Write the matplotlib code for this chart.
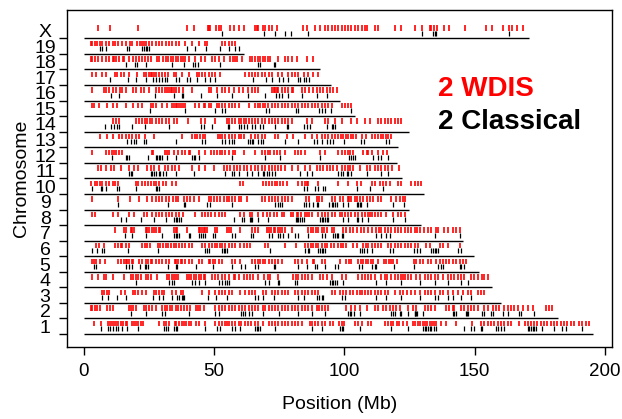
import matplotlib
matplotlib.use("Agg")
import matplotlib.pyplot as plt

plt.rcParams['font.family'] = ['Liberation Sans', 'DejaVu Sans']

# chromosome names and lengths (Mb)
chrom_names = ['1', '2', '3', '4', '5', '6', '7', '8', '9', '10',
               '11', '12', '13', '14', '15', '16', '17', '18', '19', 'X']
chrom_len = [195.5, 182.1, 160.0, 156.5, 151.8, 149.7, 145.4, 129.4, 124.6, 130.7,
             122.1, 120.1, 120.4, 124.9, 104.0, 98.2, 95.0, 90.7, 61.4, 171.0]

# WDIS (red) and Classical (black) positions, Mb
wdis_1 = [3.9, 6.5, 9.4, 9.9, 10.7, 11.6, 12.5, 13.2, 14.1, 15.0, 16.1, 16.7, 18.3, 19.2, 20.1, 20.9,
          21.8, 22.7, 28.8, 30.7, 31.6, 32.7, 34.9, 35.4, 36.4, 37.5, 38.4, 39.3, 40.3, 41.3, 43.1,
          44.1, 46.4, 50.4, 51.7, 53.0, 54.0, 54.9, 55.8, 56.8, 58.1, 59.4, 60.4, 61.7, 62.9, 64.2,
          65.5, 67.0, 68.6, 70.9, 72.1, 73.4, 74.7, 75.9, 77.2, 78.5, 79.8, 81.0, 82.3, 83.6, 86.8,
          87.4, 88.7, 90.0, 91.3, 92.5, 94.4, 95.7, 97.9, 98.9, 99.9, 104.0, 105.3, 106.6, 109.1,
          110.1, 115.7, 116.8, 117.8, 118.7, 120.0, 120.8, 122.5, 124.2, 126.3, 127.2, 128.2, 129.2,
          130.1, 130.8, 131.8, 132.7, 133.6, 134.4, 135.2, 137.1, 139.0, 142.9, 148.9, 152.4, 153.7,
          155.0, 156.2, 157.5, 158.8, 160.1, 161.4, 162.6, 163.9, 167.1, 169.3, 170.3, 171.6, 172.8,
          174.1, 175.4, 176.6, 177.9, 179.2, 180.5, 181.7, 183.0, 184.3, 185.6, 186.8, 188.1, 190.0,
          191.3, 192.6, 193.8]
classical_1 = [6.5, 9.4, 9.9, 11.0, 12.5, 13.2, 14.8, 16.7, 20.9, 30.7, 31.6, 32.4, 34.6, 35.2, 35.8,
               46.6, 51.1, 52.4, 56.8, 58.1, 60.0, 65.7, 66.4, 67.0, 67.7, 73.2, 87.4, 91.3, 98.3,
               98.9, 99.6, 105.9, 118.0, 124.4, 130.1, 130.8, 131.4, 132.0, 132.7, 133.3, 134.4,
               135.2, 146.0, 148.6, 149.9, 152.4, 153.0, 158.1, 158.8, 160.1, 161.4, 170.3, 170.9,
               171.6, 172.2, 172.8, 173.5, 176.0, 180.5, 183.6, 184.9, 191.3]

wdis_2 = [2.7, 3.3, 4.3, 5.2, 6.1, 9.0, 9.9, 11.0, 17.3, 18.0, 18.9, 19.9, 23.1, 23.9, 25.0, 26.0,
          27.5, 30.1, 31.1, 32.0, 32.9, 33.9, 35.2, 36.2, 37.1, 38.4, 39.7, 40.9, 43.1, 43.9, 44.7,
          46.0, 50.4, 51.7, 53.0, 54.3, 55.6, 56.8, 57.9, 59.4, 60.6, 61.9, 63.4, 64.5, 65.7, 66.8,
          68.6, 69.6, 70.9, 72.1, 73.4, 74.7, 75.9, 77.2, 78.5, 79.8, 81.0, 82.3, 83.6, 84.9, 86.2,
          87.4, 89.4, 90.3, 91.3, 92.5, 93.8, 100.8, 102.5, 104.0, 105.9, 108.5, 111.7, 112.9,
          114.9, 116.1, 117.4, 118.7, 119.9, 121.2, 124.4, 126.3, 127.6, 130.8, 132.0, 133.3, 134.6,
          139.0, 140.3, 141.6, 142.2, 144.8, 146.0, 147.3, 148.6, 149.9, 151.2, 153.7, 155.0, 156.9,
          158.2, 159.5, 161.4, 162.6, 163.9, 165.2, 166.5, 168.4, 170.3, 172.2, 177.3, 178.6, 179.8]
classical_2 = [18.0, 23.7, 30.1, 31.1, 40.5, 50.4, 51.7, 60.4, 60.9, 61.9, 63.2, 64.5, 68.9, 74.9,
               82.3, 87.4, 92.5, 101.5, 102.1, 102.7, 103.8, 105.9, 118.0, 118.7, 119.3, 121.2,
               121.9, 124.4, 127.0, 127.2, 127.6, 128.0, 130.1, 141.6, 142.2, 142.9, 146.8, 147.1,
               147.3, 152.9, 153.7, 156.2, 156.9, 160.7, 162.6, 167.1, 167.7, 172.8]

wdis_3 = [7.1, 7.8, 9.0, 9.7, 14.1, 15.8, 18.9, 19.6, 20.9, 22.2, 23.7, 26.9, 27.5, 28.8, 30.1, 30.7,
          33.9, 35.4, 37.1, 38.0, 45.4, 47.9, 50.4, 51.7, 53.0, 54.3, 55.6, 56.8, 60.0, 61.9, 63.2,
          64.5, 65.7, 68.6, 69.8, 72.1, 73.4, 74.7, 75.9, 77.2, 78.5, 81.0, 82.3, 83.6, 84.9, 86.2,
          87.4, 88.7, 90.0, 95.1, 96.4, 98.3, 99.6, 100.8, 102.1, 103.4, 104.7, 105.9, 106.6, 107.8,
          109.1, 110.1, 111.7, 112.7, 114.2, 115.5, 116.8, 119.3, 121.2, 122.5, 124.2, 125.7, 127.0,
          128.9, 130.8, 132.0, 133.3, 134.6, 136.5, 137.8, 139.7, 141.6, 143.5, 145.4, 147.3, 148.6,
          151.2, 152.4, 153.7]
classical_3 = [7.1, 9.4, 12.9, 16.1, 26.5, 28.8, 30.3, 33.9, 35.8, 36.4, 37.5, 38.0, 38.4, 47.7,
               50.7, 54.9, 65.7, 67.0, 68.6, 72.8, 82.3, 84.3, 89.4, 90.3, 91.3, 91.9, 98.9, 100.2,
               112.3, 116.1, 121.9, 128.9, 134.6, 135.9, 139.7, 141.6, 144.8, 148.6]

wdis_4 = [3.3, 5.6, 7.8, 8.4, 11.0, 15.4, 18.0, 18.9, 19.9, 20.9, 21.8, 23.9, 24.7, 25.6, 28.2, 32.0,
          32.7, 33.9, 34.6, 35.2, 36.2, 39.7, 40.3, 41.3, 42.2, 43.1, 44.1, 45.1, 46.0, 46.6, 49.2,
          50.2, 51.4, 53.0, 54.3, 55.6, 57.5, 58.1, 59.4, 61.3, 62.6, 63.8, 65.1, 67.0, 69.3, 70.6,
          71.5, 74.7, 80.4, 81.3, 82.3, 83.6, 84.9, 86.2, 87.4, 90.6, 91.9, 93.2, 95.1, 98.9, 100.8,
          105.3, 106.6, 107.8, 109.1, 110.1, 111.7, 114.2, 115.5, 116.5, 118.0, 119.3, 120.6, 121.9,
          122.5, 123.1, 124.4, 125.7, 127.6, 128.9, 130.8, 132.0, 133.3, 134.6, 135.9, 137.8, 139.7,
          141.0, 142.2, 143.5, 144.8, 146.0, 148.6, 149.9, 151.2, 153.0, 153.7, 155.0]
classical_4 = [20.1, 32.7, 33.7, 34.6, 41.6, 42.8, 44.1, 46.6, 52.0, 53.0, 54.3, 54.9, 55.6, 69.6,
               70.9, 74.7, 74.9, 81.0, 81.7, 94.4, 95.1, 95.7, 96.4, 97.0, 99.6, 112.3, 116.1, 121.9,
               128.9, 134.6, 139.7, 144.8, 147.3]

wdis_5 = [3.3, 3.9, 4.8, 6.1, 8.1, 13.2, 14.1, 15.4, 16.1, 16.7, 17.3, 18.3, 18.9, 21.1, 22.4, 23.9,
          24.7, 25.6, 26.2, 27.5, 28.8, 30.1, 31.4, 32.7, 34.9, 35.4, 36.2, 37.1, 37.7, 39.0, 40.5,
          41.6, 44.1, 45.4, 47.9, 48.5, 49.4, 50.2, 51.7, 53.0, 56.8, 57.9, 60.0, 64.5, 65.7, 66.8,
          67.7, 68.6, 69.6, 70.9, 72.1, 73.4, 74.7, 75.9, 81.0, 82.3, 83.6, 85.5, 88.1, 88.4, 91.5,
          92.5, 98.3, 100.8, 101.7, 102.7, 105.3, 106.3, 107.2, 108.1, 109.1, 110.1, 111.0, 112.7,
          115.2, 116.1, 117.0, 118.0, 118.7, 120.0, 126.7, 127.6, 128.9, 130.1, 132.0, 133.3, 135.2,
          136.5, 137.8, 139.0, 140.3, 141.6, 142.9, 144.2, 145.4, 146.7]
classical_5 = [3.9, 4.8, 16.1, 17.3, 18.3, 21.4, 23.4, 23.9, 24.7, 32.4, 35.2, 35.8, 43.1, 49.4, 56.8,
               60.4, 61.9, 65.7, 67.0, 72.8, 73.4, 82.1, 85.5, 88.7, 89.4, 92.5, 96.4, 97.4, 105.5,
               106.6, 110.4, 111.7, 112.3, 119.0, 126.7, 135.9, 137.1, 137.8, 144.2, 144.8, 146.0]

wdis_6 = [4.8, 5.9, 7.8, 12.0, 13.2, 14.1, 14.8, 16.1, 17.3, 22.4, 23.4, 24.3, 25.2, 28.5, 29.4, 30.3,
          31.4, 32.4, 33.3, 34.6, 35.4, 36.4, 37.5, 38.8, 40.3, 41.6, 45.4, 46.6, 47.9, 49.2, 50.2,
          51.1, 52.4, 53.0, 54.3, 55.6, 56.8, 58.1, 60.0, 61.3, 62.6, 63.8, 69.6, 70.6, 77.2, 81.3,
          84.9, 86.2, 87.2, 88.1, 89.0, 90.0, 91.3, 92.5, 93.5, 94.8, 96.1, 97.6, 98.7, 99.6, 100.5,
          103.4, 104.7, 107.2, 108.1, 109.1, 110.4, 111.7, 112.9, 114.2, 116.8, 118.0, 119.3, 120.6,
          121.9, 123.1, 124.4, 125.7, 127.0, 128.2, 131.4, 132.7, 136.5, 137.8, 139.7, 144.2]
classical_6 = [3.1, 5.2, 6.9, 7.8, 17.1, 28.5, 46.6, 47.3, 47.9, 53.0, 53.6, 54.3, 54.9, 71.5, 84.9,
               85.9, 86.4, 90.0, 90.6, 91.3, 91.9, 92.5, 105.9, 106.6, 107.6, 108.5, 110.4, 117.4,
               118.7, 126.7, 128.0, 128.9, 133.3, 133.9, 134.6, 135.2, 135.9, 143.5, 144.8]

wdis_7 = [12.0, 15.4, 16.1, 18.0, 18.6, 19.2, 23.7, 24.3, 25.0, 26.0, 26.9, 27.8, 28.8, 29.4, 34.6,
          35.2, 35.8, 39.7, 44.1, 44.7, 45.4, 46.0, 46.6, 47.3, 50.4, 51.1, 54.9, 55.6, 56.6, 60.0,
          64.5, 65.7, 66.8, 70.2, 70.9, 71.9, 72.8, 73.4, 74.4, 75.3, 76.2, 77.2, 79.8, 86.2, 87.2,
          88.1, 89.0, 90.0, 91.3, 92.3, 93.2, 95.1, 96.1, 99.6, 100.8, 102.1, 103.4, 104.7, 106.3,
          107.6, 109.1, 110.4, 112.3, 113.2, 114.2, 115.5, 116.8, 118.0, 119.3, 120.6, 121.9, 123.1,
          124.4, 125.7, 127.0, 128.0, 129.2, 130.5, 132.0, 133.3, 135.2, 135.9, 138.2, 139.7, 141.6,
          142.9, 144.2]
classical_7 = [15.8, 18.6, 23.9, 30.1, 34.6, 35.2, 35.8, 36.4, 40.3, 40.9, 44.1, 45.1, 45.6, 46.4,
               49.4, 50.4, 56.8, 58.1, 64.2, 65.1, 70.9, 72.1, 74.7, 75.3, 76.6, 78.5, 81.0, 82.3,
               86.2, 91.3, 92.5, 95.7, 96.4, 97.0, 97.6, 98.9, 99.6, 112.3, 114.2, 116.1, 117.4,
               134.6, 144.5]

wdis_8 = [3.1, 4.3, 11.0, 13.2, 17.3, 19.2, 23.1, 24.3, 26.2, 27.5, 28.8, 30.1, 31.4, 32.7, 33.9,
          35.4, 36.4, 38.0, 42.8, 45.4, 46.6, 47.7, 48.9, 50.4, 51.7, 53.0, 54.3, 60.0, 61.3, 63.8,
          64.7, 67.0, 68.9, 70.2, 71.5, 72.8, 74.0, 75.9, 77.0, 79.5, 80.4, 81.7, 82.3, 83.4, 84.7,
          85.5, 86.4, 87.4, 89.7, 91.3, 92.5, 93.8, 95.1, 96.4, 98.3, 98.9, 100.2, 101.5, 102.7,
          104.0, 105.3, 106.6, 107.8, 108.9, 109.7, 110.4, 111.7, 112.9, 114.2, 116.1, 118.7, 120.6,
          121.9, 123.1]
classical_8 = [14.1, 16.1, 21.8, 26.9, 31.4, 34.6, 35.2, 35.8, 36.4, 37.1, 57.5, 60.6, 61.3, 63.8,
               64.2, 64.7, 67.0, 70.6, 81.3, 81.7, 82.3, 83.0, 83.6, 84.3, 90.6, 91.3, 91.9, 92.5,
               93.2, 93.8, 99.6, 101.5, 105.0, 105.3, 106.6, 109.1, 118.7, 123.4]

wdis_9 = [3.0, 13.2, 17.6, 21.1, 24.3, 26.2, 27.5, 28.8, 30.1, 31.4, 32.7, 34.2, 35.2, 36.2, 38.4,
          39.7, 40.9, 42.2, 44.1, 47.9, 48.9, 49.8, 51.1, 52.4, 53.6, 54.9, 55.8, 56.8, 58.1, 59.4,
          60.4, 62.6, 68.3, 69.6, 70.9, 72.1, 73.4, 74.7, 75.9, 77.2, 78.5, 79.8, 85.2, 86.4, 89.4,
          90.3, 91.3, 95.3, 96.4, 98.3, 99.6, 101.2, 101.7, 102.7, 104.0, 105.0, 105.9, 107.2, 108.5,
          109.7, 111.0, 112.7, 114.0, 118.0, 119.9, 121.2, 122.5, 123.1]
classical_9 = [13.2, 32.4, 38.4, 39.0, 47.3, 48.5, 56.8, 73.4, 74.4, 75.3, 76.2, 84.3, 85.2, 86.4,
               88.1, 89.4, 90.0, 94.1, 95.1, 95.7, 96.4, 97.0, 99.6, 101.2, 105.0, 105.3, 105.8,
               106.2, 108.8, 118.7, 122.9]

wdis_10 = [2.7, 4.3, 5.2, 6.1, 7.1, 8.4, 9.7, 11.0, 12.0, 13.2, 19.9, 20.9, 22.4, 23.4, 24.7, 25.6,
           26.9, 27.8, 28.8, 30.3, 31.4, 33.9, 35.2, 60.0, 60.9, 68.9, 69.8, 70.9, 72.1, 73.2, 74.0,
           75.3, 76.6, 77.8, 82.3, 83.6, 84.7, 85.5, 86.2, 90.0, 97.4, 101.5, 105.0, 106.3, 110.4,
           111.7, 113.6, 114.9, 116.1, 117.4, 120.6, 121.9, 125.7, 127.0, 128.2, 129.5]
classical_10 = [3.0, 6.5, 7.1, 8.4, 12.9, 13.5, 19.9, 27.5, 28.2, 28.8, 84.3, 85.5, 88.7, 90.0, 91.9,
                92.5, 105.0, 109.7, 114.9]

wdis_11 = [5.6, 6.5, 8.4, 10.3, 11.6, 14.1, 17.3, 19.2, 20.9, 24.3, 25.6, 26.9, 28.8, 31.1, 32.4,
           33.7, 34.9, 36.4, 41.6, 44.1, 46.6, 49.8, 53.6, 54.9, 56.2, 57.5, 58.7, 60.0, 61.3, 62.6,
           64.2, 65.7, 67.0, 68.3, 69.6, 70.9, 72.1, 73.4, 74.7, 75.7, 77.2, 79.8, 82.3, 84.9, 86.8,
           89.4, 90.6, 91.9, 93.2, 94.4, 95.7, 97.0, 98.9, 100.2, 101.5, 102.1, 103.4, 105.9, 108.5,
           109.8, 111.7, 112.9, 114.2, 115.5, 116.8, 118.3, 120.8]
classical_11 = [17.3, 18.0, 18.6, 25.6, 26.2, 26.9, 27.5, 28.8, 29.4, 30.3, 31.4, 35.2, 42.2, 54.3,
                56.8, 57.5, 59.4, 62.6, 64.5, 66.8, 68.6, 69.3, 70.2, 70.9, 72.1, 73.4, 83.0, 85.5,
                87.7, 97.6, 98.7, 99.6, 100.9, 101.5, 102.5, 108.8, 113.9, 116.8]

wdis_12 = [3.0, 8.4, 9.7, 10.7, 11.6, 12.5, 13.5, 14.5, 26.0, 26.5, 31.1, 32.0, 32.7, 34.6, 36.2,
           37.5, 39.0, 40.5, 40.9, 44.1, 46.6, 48.9, 49.8, 51.1, 52.4, 53.0, 54.0, 55.6, 57.1, 57.9,
           61.3, 65.7, 68.3, 69.6, 70.6, 71.5, 72.8, 74.0, 75.3, 77.2, 81.0, 82.1, 83.4, 84.9, 90.6,
           92.5, 97.6, 98.9, 100.2, 101.2, 102.1, 103.4, 107.2, 108.5, 109.1, 110.4, 112.9, 114.9,
           116.5]
classical_12 = [10.7, 16.1, 16.7, 17.3, 24.7, 27.5, 28.2, 28.8, 29.4, 30.1, 32.0, 35.2, 41.6, 42.2,
                42.8, 44.1, 56.8, 69.6, 75.3, 90.6, 101.7, 102.5, 103.4, 104.0, 111.0, 112.9, 114.2,
                116.8]

wdis_13 = [6.1, 9.0, 11.0, 13.5, 14.8, 16.1, 17.3, 18.6, 19.9, 21.1, 23.4, 26.9, 37.5, 41.6, 42.6,
           43.5, 44.7, 45.6, 46.6, 51.4, 52.4, 53.2, 54.3, 55.6, 56.8, 58.1, 59.4, 60.4, 61.3, 64.2,
           65.7, 67.0, 68.3, 69.6, 73.4, 74.7, 77.8, 80.4, 84.7, 87.4, 89.4, 91.3, 92.5, 93.8, 95.1,
           96.4, 97.6, 98.7, 99.6, 100.5, 101.5, 102.5, 103.4, 104.3, 106.6, 108.1, 110.4, 111.9,
           112.9, 113.9, 114.9, 115.8, 116.8, 117.8]
classical_13 = [16.7, 18.0, 19.2, 20.1, 23.1, 23.7, 35.4, 45.4, 46.6, 53.2, 54.3, 55.6, 56.8, 57.5,
                62.9, 63.8, 64.5, 65.1, 67.0, 68.1, 68.9, 77.2, 82.1, 88.4, 89.4, 91.3, 93.2, 94.4,
                95.7, 99.9, 106.3, 107.6, 115.8, 117.0]

wdis_14 = [11.0, 12.5, 13.5, 19.9, 21.1, 22.4, 23.4, 24.3, 25.2, 26.2, 27.5, 28.8, 30.1, 31.4, 32.7,
           34.6, 35.8, 40.0, 45.1, 46.4, 50.4, 54.9, 55.8, 56.8, 58.1, 59.4, 60.4, 61.3, 62.2, 63.2,
           64.5, 65.7, 67.0, 68.3, 69.6, 70.9, 72.1, 73.4, 74.7, 75.9, 77.2, 78.5, 79.8, 85.5, 87.4,
           92.5, 93.8, 96.4, 99.2, 102.5, 105.0, 107.8, 109.8, 112.7, 114.2, 115.5, 116.8, 118.0,
           119.3, 120.6, 121.9]
classical_14 = [8.2, 10.3, 11.6, 12.9, 13.5, 18.3, 23.4, 32.7, 45.1, 46.0, 49.2, 55.3, 55.8, 59.4,
                60.4, 61.3, 62.6, 64.5, 65.7, 67.7, 68.6, 73.4, 77.8, 78.5, 84.3, 85.5, 86.8, 93.2,
                95.1, 95.7, 96.4]

wdis_15 = [3.1, 3.9, 5.9, 8.7, 11.2, 12.9, 16.3, 18.9, 20.9, 22.4, 25.6, 26.5, 27.5, 30.1, 32.0,
           33.9, 34.6, 35.2, 35.8, 36.4, 37.1, 38.0, 38.8, 42.8, 44.1, 46.0, 46.6, 47.9, 48.9, 51.1,
           51.7, 53.0, 54.3, 55.6, 56.8, 58.1, 59.4, 63.2, 65.7, 66.8, 67.7, 68.6, 69.6, 70.6, 72.1,
           73.4, 74.7, 75.9, 77.2, 78.5, 79.8, 81.0, 82.3, 83.6, 84.9, 86.2, 87.4, 88.7, 90.0, 91.3,
           92.5, 93.8, 95.3, 98.9, 100.2, 101.5, 102.7]
classical_15 = [25.2, 38.8, 50.4, 53.0, 54.3, 69.8, 71.1, 81.3, 82.1, 90.3, 91.3, 92.5, 94.8, 102.7]

wdis_16 = [3.3, 7.8, 8.4, 9.7, 11.0, 12.2, 13.8, 14.5, 16.1, 18.9, 19.9, 21.8, 23.1, 25.0, 27.5,
           28.8, 30.1, 31.1, 32.0, 32.7, 33.3, 33.9, 34.6, 35.4, 36.4, 38.0, 41.6, 47.9, 48.9, 51.1,
           53.0, 54.3, 55.6, 57.5, 59.4, 60.9, 62.9, 64.5, 65.7, 67.0, 72.1, 72.8, 73.4, 74.0, 74.7,
           75.9, 77.2, 78.5, 79.8, 80.4, 83.6, 84.9, 86.4, 88.1, 89.4, 90.6, 91.9, 93.2, 94.4, 95.7,
           97.0]
classical_16 = [10.3, 13.5, 27.3, 34.6, 37.5, 38.0, 45.1, 51.1, 56.8, 62.9, 69.6, 73.7, 74.9, 75.9,
                78.5, 83.6, 89.4, 93.2]

wdis_17 = [3.1, 4.6, 7.1, 8.4, 12.0, 12.9, 14.1, 15.4, 17.3, 20.5, 23.1, 23.9, 25.0, 25.6, 26.2,
           26.9, 27.8, 28.8, 29.8, 31.1, 32.4, 34.6, 35.4, 37.7, 40.3, 43.5, 44.1, 45.4, 46.6, 47.9,
           49.2, 50.4, 52.4, 61.9, 63.2, 64.5, 65.7, 67.0, 68.3, 69.6, 70.9, 72.1, 74.7, 75.9, 78.5,
           79.8, 81.0, 82.3, 84.3, 86.2, 88.1, 90.0]
classical_17 = [10.0, 17.1, 20.1, 23.9, 26.5, 27.8, 28.8, 30.1, 31.1, 32.0, 35.4, 36.4, 39.7, 40.9,
                43.5, 46.6, 48.5, 50.2, 65.1, 69.8, 72.1, 74.9, 76.6, 78.5, 82.3, 83.0, 84.3, 85.2,
                86.4]

wdis_18 = [2.7, 3.3, 4.3, 5.6, 7.1, 8.4, 9.7, 11.0, 11.6, 12.5, 13.5, 15.0, 15.5, 17.3, 18.9, 20.1,
           21.1, 22.2, 23.4, 24.7, 25.6, 28.2, 28.8, 30.3, 31.4, 32.4, 33.3, 34.2, 35.4, 36.2, 37.1,
           38.0, 39.0, 40.5, 42.8, 45.1, 46.6, 49.2, 50.4, 51.7, 53.6, 56.2, 57.1, 57.9, 58.7, 60.6,
           63.8, 64.5, 65.7, 66.8, 67.7, 68.6, 69.6, 70.6, 71.5, 74.7, 77.2, 78.5, 79.8, 81.7, 85.5,
           88.1]
classical_18 = [16.3, 19.6, 20.5, 23.9, 33.9, 38.4, 41.8, 42.6, 43.9, 52.4, 66.8, 67.7, 72.8, 73.4]

wdis_19 = [2.7, 3.3, 4.3, 5.2, 6.1, 6.9, 8.4, 9.7, 11.0, 12.0, 13.2, 14.8, 16.1, 17.6, 18.3, 20.5,
           21.5, 22.4, 23.1, 23.9, 25.0, 26.0, 27.5, 28.8, 30.1, 31.4, 32.7, 33.9, 35.4, 36.7, 38.8,
           41.6, 44.1, 46.4, 47.3, 53.0, 54.3, 55.6, 56.8, 58.1]
classical_19 = [6.1, 6.9, 8.4, 16.5, 17.3, 22.2, 23.1, 23.7, 24.3, 25.0, 39.7, 42.6, 46.9, 52.4, 55.8,
                57.9, 59.6]

wdis_X = [5.6, 10.1, 20.9, 39.4, 42.2, 47.5, 48.0, 48.6, 50.7, 51.7, 52.8, 56.2, 57.7, 59.4, 61.3,
          65.8, 66.5, 67.0, 68.6, 69.6, 71.1, 72.1, 74.0, 84.2, 85.5, 88.7, 90.6, 92.5, 93.8, 95.1,
          96.4, 97.6, 98.9, 100.2, 101.5, 102.7, 104.0, 105.3, 106.6, 107.8, 108.5, 111.7, 113.0,
          119.3, 121.9, 127.2, 129.8, 132.7, 133.3, 134.3, 135.6, 138.2, 140.0, 146.3, 154.4, 156.5,
          160.7, 163.3, 164.5, 166.2, 168.4]
classical_X = [53.0, 69.2, 73.4, 77.2, 79.5, 86.2, 129.8, 134.0, 134.6, 135.2, 163.3]

wdis = [wdis_1, wdis_2, wdis_3, wdis_4, wdis_5, wdis_6, wdis_7, wdis_8, wdis_9, wdis_10,
        wdis_11, wdis_12, wdis_13, wdis_14, wdis_15, wdis_16, wdis_17, wdis_18, wdis_19, wdis_X]
classical = [classical_1, classical_2, classical_3, classical_4, classical_5, classical_6,
             classical_7, classical_8, classical_9, classical_10, classical_11, classical_12,
             classical_13, classical_14, classical_15, classical_16, classical_17, classical_18,
             classical_19, classical_X]

fig = plt.figure(figsize=(6.22, 4.19), dpi=100)
ax = fig.add_axes([0.1072, 0.1725, 0.8767, 0.8036])

for i, name in enumerate(chrom_names):
    k = i + 1
    ax.hlines(k - 0.5, 0, chrom_len[i], color='black', lw=1.0)
    ax.vlines(classical[i], k - 0.32, k, color='black', lw=0.9)
    ax.vlines(wdis[i], k, k + 0.35, color='#ff0000', lw=1.2)

ax.set_xlim(-6.6, 202.7)
ax.set_ylim(-0.315, 21.32)

ax.set_xticks([0, 50, 100, 150, 200])
ax.tick_params(axis='x', labelsize=13.5, length=6, width=1.0, pad=6)

# ticks sit on the chromosome lines, labels between them (centred, R style)
ax.set_yticks([k + 0.5 for k in range(len(chrom_names))])
ax.set_yticklabels([])
ax.set_yticks([k + 1 for k in range(len(chrom_names))], minor=True)
ax.set_yticklabels(chrom_names, minor=True, ha='center')
ax.tick_params(axis='y', which='major', length=6, width=1.0)
ax.tick_params(axis='y', which='minor', length=0, labelsize=14, pad=15.5)

for s in ax.spines.values():
    s.set_linewidth(1.0)

ax.set_xlabel('Position (Mb)', fontsize=14, labelpad=11)
ax.set_ylabel('Chromosome', fontsize=14)
ax.yaxis.set_label_coords(-0.067, 0.5)

ax.text(135.9, 15.8, '2 WDIS', color='#ff0000', fontsize=20, fontweight='bold',
        ha='left', va='baseline')
ax.text(135.9, 13.66, '2 Classical', color='black', fontsize=20, fontweight='bold',
        ha='left', va='baseline')

fig.savefig('out.png', dpi=100)
